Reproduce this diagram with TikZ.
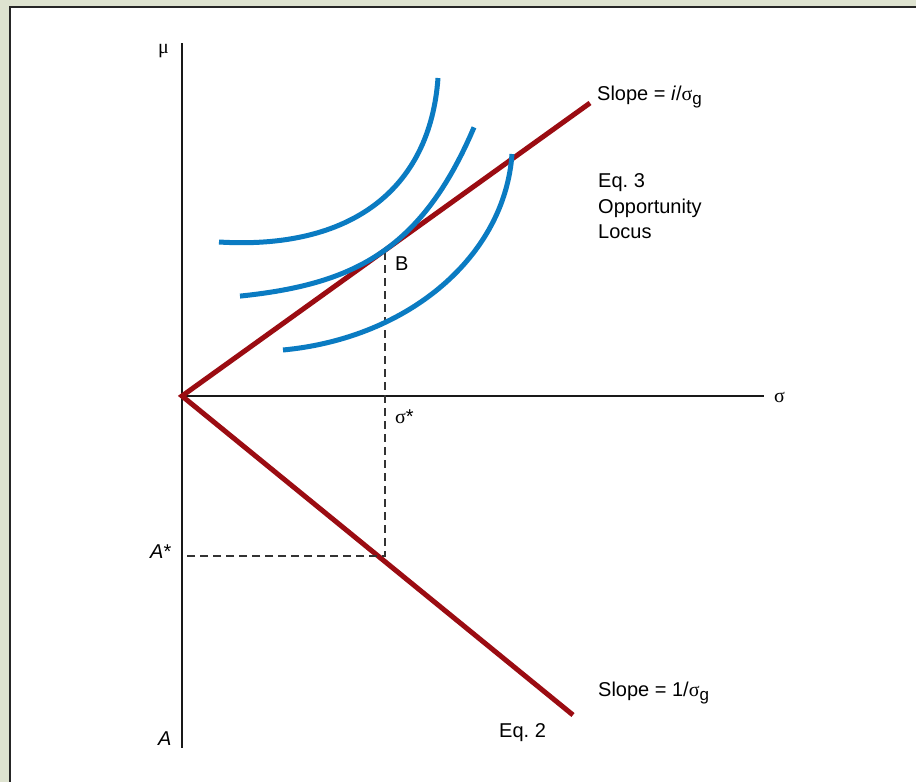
\documentclass[tikz,border=0pt]{standalone}
\usepackage{fontspec}
\setmainfont{Liberation Sans}
\newfontfamily\serifgr{Liberation Serif}
\definecolor{bggreen}{RGB}{222,227,208}
\definecolor{locusred}{RGB}{155,12,18}
\definecolor{curveblue}{RGB}{10,123,194}
\begin{document}
\begin{tikzpicture}[x=1pt,y=-1pt,
  axisline/.style={line width=1.4pt, black!90},
  redline/.style={line width=5pt, locusred, line join=miter},
  bluecurve/.style={line width=5pt, curveblue},
  guide/.style={line width=1.2pt, black!80, dash pattern=on 8pt off 5pt},
  lbl/.style={font=\fontsize{20}{24}\selectfont, inner sep=0pt, anchor=base west},
  grk/.style={font=\fontsize{20}{24}\serifgr, inner sep=0pt, anchor=base west}]
\useasboundingbox (0,0) rectangle (916,782);
\fill[bggreen] (0,0) rectangle (916,782);
\fill[white] (10,7) rectangle (916,782);
\draw[line width=2pt, black!85] (10,782) -- (10,7) -- (916,7);

% axes
\coordinate (O) at (182,396);
\coordinate (ytop) at (182,43);
\coordinate (ybot) at (182,748);
\coordinate (xend) at (764,396);
\draw[axisline] (ytop) -- (ybot);
\draw[axisline] (O) -- (xend);

% red lines
\coordinate (U) at (590,103);
\coordinate (L) at (573,715);
\draw[redline] (U) -- (O) -- (L);

% dashed guides
\coordinate (B) at (385,252);
\coordinate (C) at (385,556);
\coordinate (Ay) at (182,556);
\draw[guide] (B) -- (C) -- (Ay);

% blue curves
\draw[bluecurve] (219,242) .. controls (350,250) and (430,190) .. (438,78);
\draw[bluecurve] plot[domain=-145:89, samples=60, variable=\u] ({385+\u}, {250-53.9*(exp(\u/75)-1)});
\draw[bluecurve] (283,350) .. controls (410,338) and (505,255) .. (512,154);

% labels
\node[grk] (mu) at (158,53) {μ};
\node[grk] (sig) at (774,402) {σ};
\node[lbl] (Blbl) at (395,270) {B};
\node[lbl] (sigstar) at (395,423) {{\serifgr σ}*};
\node[lbl] (Astar) at (150,558) {\textit{A}*};
\node[lbl] (Alab) at (158,745) {\textit{A}};
\node[lbl] (slopeU) at (597,100) {Slope = \textit{i}/{\serifgr σ}\raisebox{-0.4ex}{\fontsize{17}{17}\selectfont g}};
\node[lbl] (eq3a) at (598,187) {Eq.\ 3};
\node[lbl] (eq3b) at (598,213) {Opportunity};
\node[lbl] (eq3c) at (598,238) {Locus};
\node[lbl] (slopeL) at (598,696) {Slope = 1/{\serifgr σ}\raisebox{-0.4ex}{\fontsize{17}{17}\selectfont g}};
\node[lbl] (eq2) at (499,737) {Eq.\ 2};
\end{tikzpicture}
\end{document}
